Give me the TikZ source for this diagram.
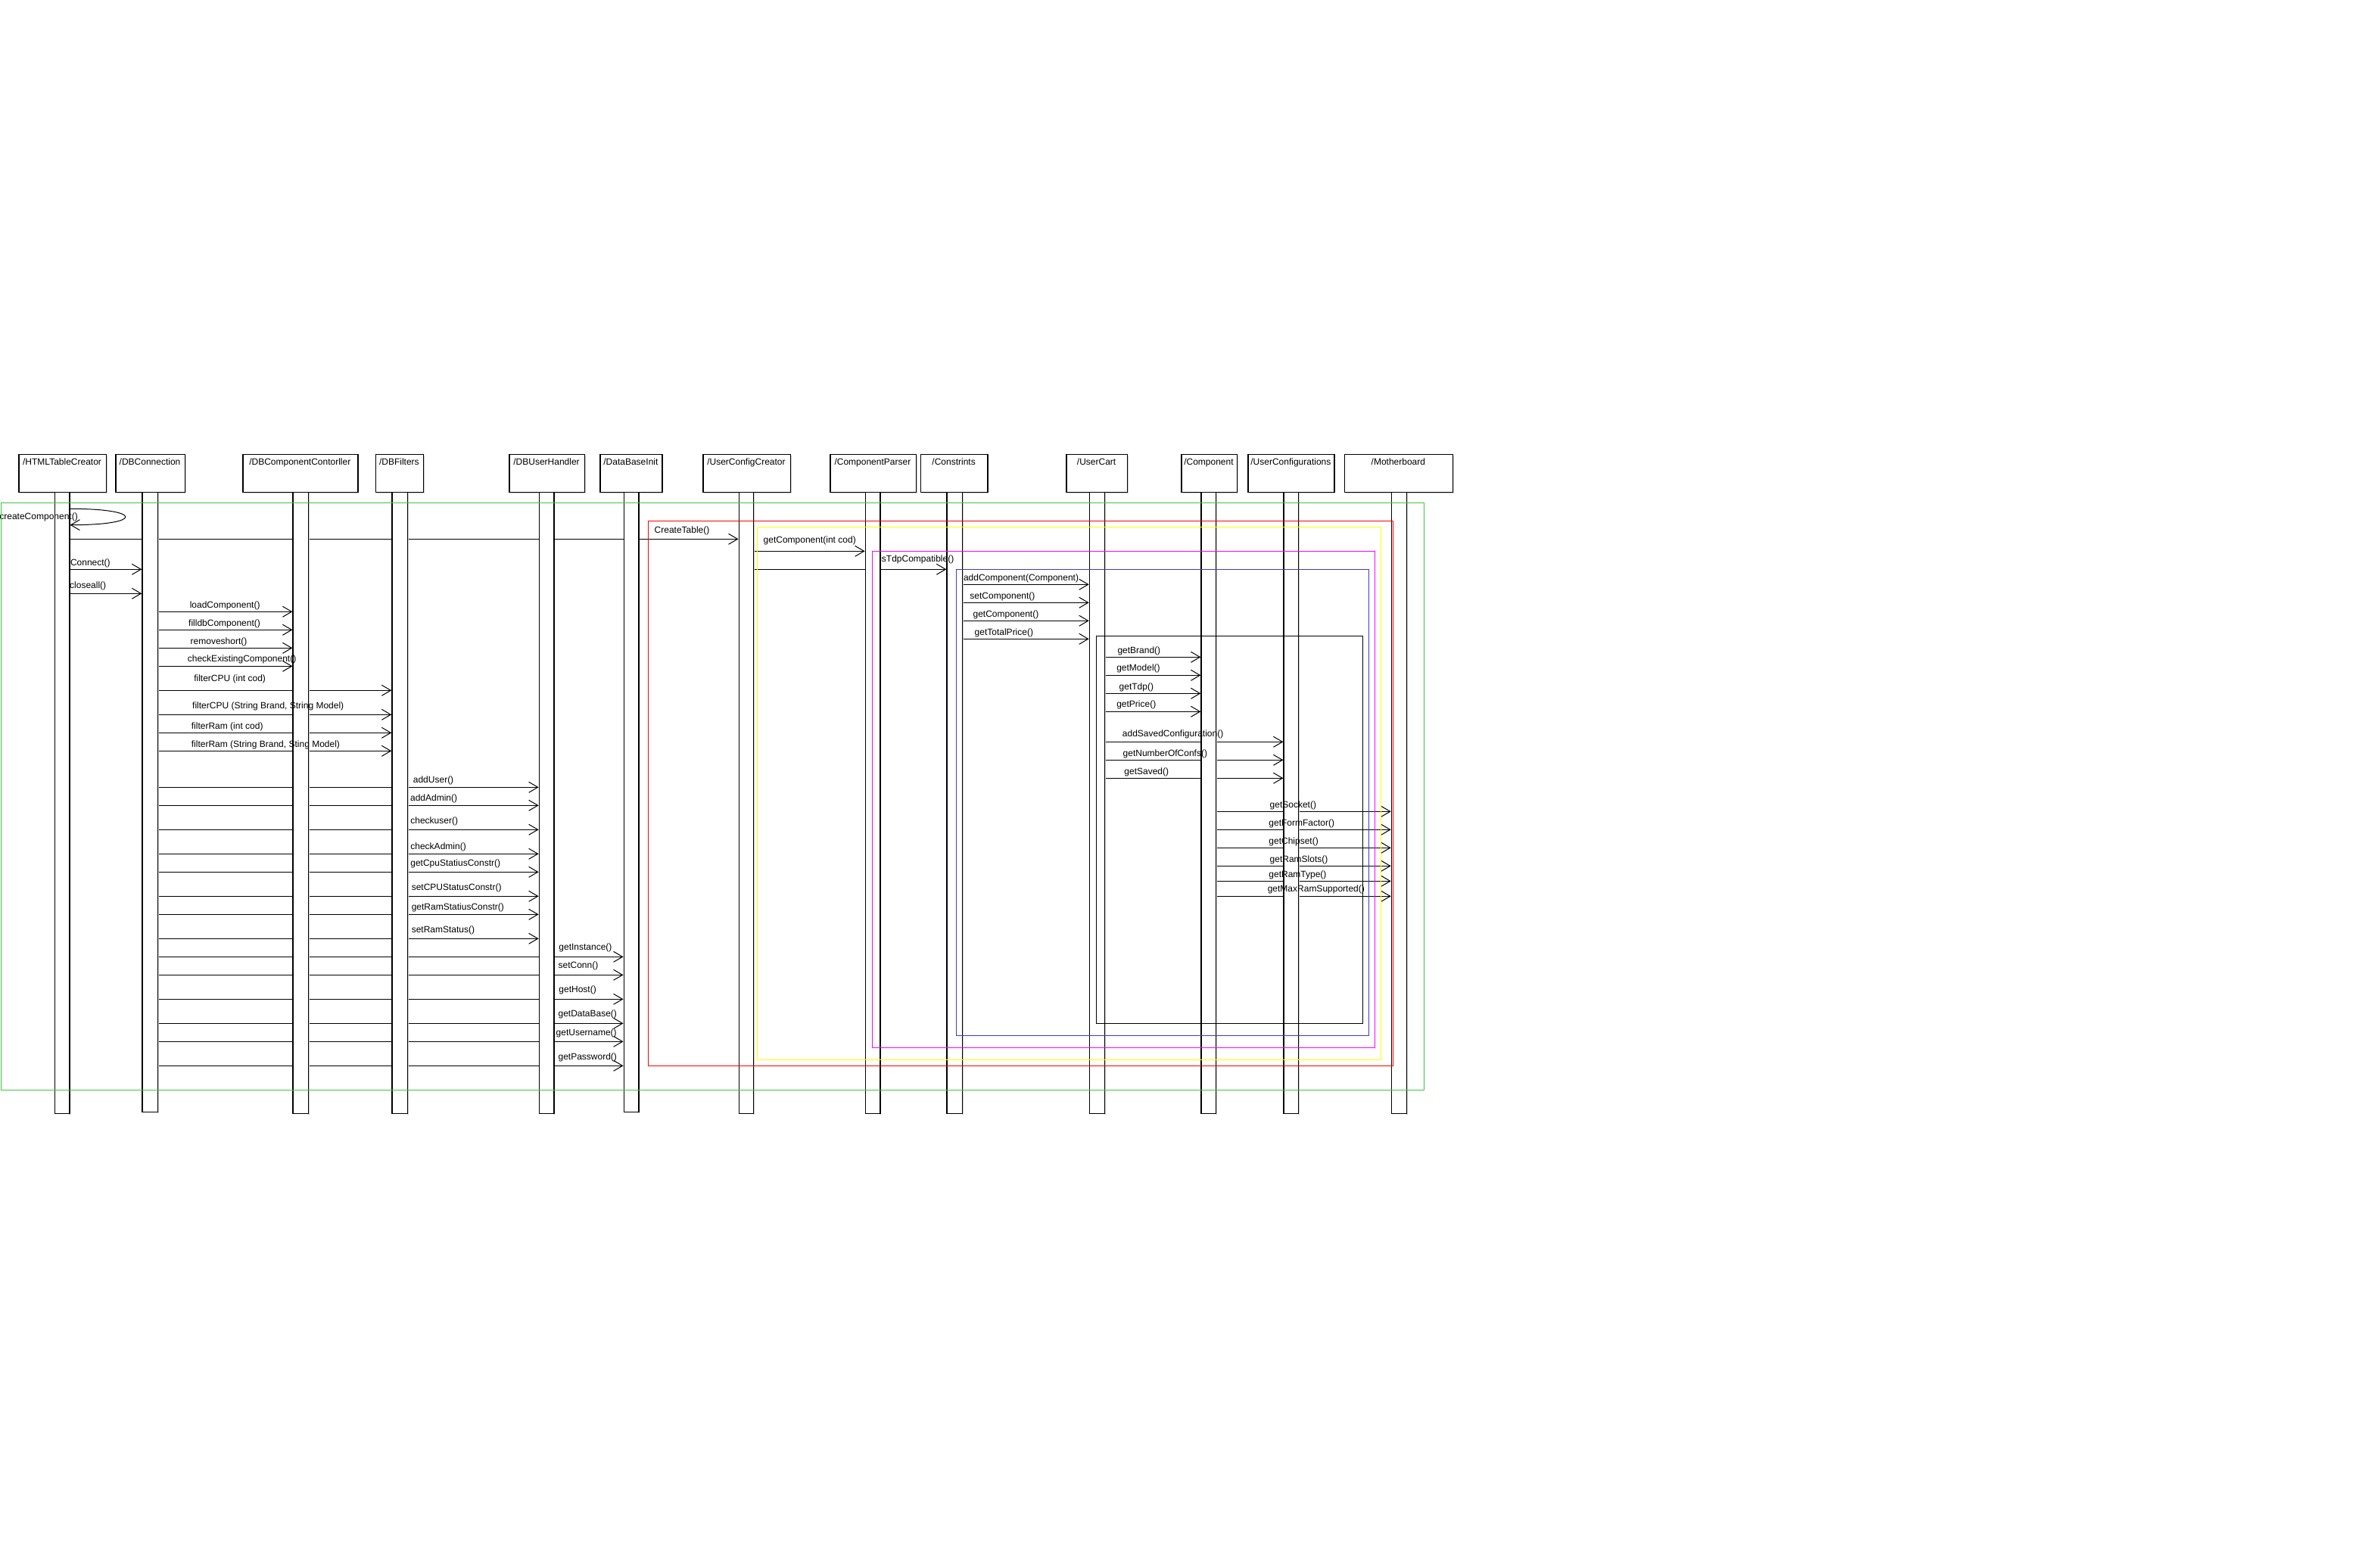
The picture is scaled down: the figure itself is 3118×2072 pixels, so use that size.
\documentclass[tikz,border=0pt]{standalone}
\usepackage{fontspec}
\setmainfont{Liberation Sans}
\usetikzlibrary{arrows.meta}
\pgfdeclarelayer{back}
\pgfdeclarelayer{bg}
\pgfdeclarelayer{fg}
\pgfsetlayers{back,bg,main,fg}
\definecolor{fgreen}{RGB}{60,200,60}
\definecolor{fblue}{RGB}{60,60,204}
\definecolor{fmag}{RGB}{255,0,255}
\definecolor{fyel}{RGB}{255,255,0}
\definecolor{fred}{RGB}{255,0,0}
\definecolor{shadowc}{RGB}{205,205,205}
\newcounter{msgc}
\tikzset{
  lbox/.style={draw=black, line width=0.6pt, fill=white, inner sep=0pt},
  bar/.style={draw=black, line width=0.6pt, fill=white, inner sep=0pt},
  lbl/.style={inner sep=0pt, font=\fontsize{6}{7}\selectfont},
  msg/.style={draw=black, line width=0.5pt, -{Straight Barb[length=6pt,width=7pt]}},
  frame/.style={line width=0.5pt},
}
\newcommand\lifeln[7]{%
  \fill[shadowc] ({#2+2},602) rectangle ({#3+2},652);
  \node[lbox, anchor=north west, minimum width={(#3-#2)*0.5pt}, minimum height=25pt] (#1) at (#2,600) {};
  \node[lbl, anchor=base] (#1t) at ({(#2+#3)/2},614) {#7};
  \fill[shadowc] (#5,652) rectangle ({#5+2},{#6+2});
  \node[bar, anchor=north west, minimum width={(#5-#4)*0.5pt}, minimum height={(#6-650)*0.5pt}] (#1b) at (#4,650) {};
}
\newcommand\msgr[6]{%
  \begin{pgfonlayer}{bg}\draw[msg] (#1.east |- 0,#3) -- (#2.west |- 0,#3);\end{pgfonlayer}
  \stepcounter{msgc}%
  \begin{pgfonlayer}{fg}\node[lbl, anchor=base west] (m\arabic{msgc}) at (#4,{#5+4.3}) {#6};\end{pgfonlayer}
}
\begin{document}
\begin{tikzpicture}[x=0.5pt, y=-0.5pt]
\begin{pgfonlayer}{back}
\fill[white] (0,0) rectangle (3118,2072);
\end{pgfonlayer}
\useasboundingbox (0,0) rectangle (3118,2072);
% lifelines
\lifeln{htc}{24.4}{139.7}{71.6}{91.3}{1471}{/HTMLTableCreator}
\lifeln{dbc}{152.4}{243.7}{187.3}{207.5}{1469}{/DBConnection}
\lifeln{dbcc}{320.3}{472.3}{386.4}{406.6}{1471}{/DBComponentContorller}
\lifeln{dbf}{496.2}{558.5}{517.3}{537.5}{1471}{/DBFilters}
\lifeln{dbu}{672.4}{771.7}{711.6}{731.3}{1471}{/DBUserHandler}
\lifeln{dbi}{792.4}{874.4}{823.5}{843.3}{1469}{/DataBaseInit}
\lifeln{ucc}{928.3}{1043.6}{975.5}{995.2}{1471}{/UserConfigCreator}
\lifeln{cp}{1096.3}{1209.5}{1142.6}{1162.4}{1471}{/ComponentParser}
\lifeln{con}{1215.8}{1304.4}{1250.3}{1270.5}{1471}{/Constrints}
\lifeln{uc}{1408.4}{1488.8}{1438.7}{1458.5}{1471}{/UserCart}
\lifeln{comp}{1560.3}{1633.6}{1586.4}{1606.2}{1471}{/Component}
\lifeln{ucf}{1648.3}{1762.4}{1695.4}{1715.2}{1471}{/UserConfigurations}
\lifeln{mb}{1776.2}{1918.5}{1837.7}{1857.5}{1471}{/Motherboard}
% self call
\draw[msg] (htcb.east |- 0,672.3) .. controls (190,672.3) and (190,693.7) .. (htcb.east |- 0,693.7);
\begin{pgfonlayer}{fg}\node[lbl, anchor=base west] (selfl) at (-1,686) {createComponent()};\end{pgfonlayer}
% messages
\msgr{htcb}{uccb}{712.3}{864.3}{699.7}{CreateTable()}
\msgr{htcb}{dbcb}{752.3}{92.6}{742.7}{Connect()}
\msgr{htcb}{dbcb}{784.3}{91.8}{773.3}{closeall()}
\msgr{dbcb}{dbccb}{808.3}{250.4}{799}{loadComponent()}
\msgr{dbcb}{dbccb}{832.3}{248.8}{822.7}{filldbComponent()}
\msgr{dbcb}{dbccb}{856.3}{251.3}{846.7}{removeshort()}
\msgr{dbcb}{dbccb}{880.3}{247.5}{869.7}{checkExistingComponent()}
\msgr{dbcb}{dbfb}{912.3}{255.9}{895.7}{filterCPU (int cod)}
\msgr{dbcb}{dbfb}{944.3}{253.8}{931.7}{filterCPU (String Brand, String Model)}
\msgr{dbcb}{dbfb}{968.3}{252.5}{958.7}{filterRam (int cod)}
\msgr{dbcb}{dbfb}{992.3}{252.5}{982.7}{filterRam (String Brand, Sting Model)}
\msgr{dbcb}{dbub}{1040.3}{545.5}{1029.7}{addUser()}
\msgr{dbcb}{dbub}{1064.3}{541.7}{1053.7}{addAdmin()}
\msgr{dbcb}{dbub}{1096.3}{542}{1083.7}{checkuser()}
\msgr{dbcb}{dbub}{1128.3}{542}{1117.7}{checkAdmin()}
\msgr{dbcb}{dbub}{1152.3}{542}{1140}{getCpuStatiusConstr()}
\msgr{dbcb}{dbub}{1184.3}{543.4}{1171.7}{setCPUStatusConstr()}
\msgr{dbcb}{dbub}{1208.3}{543.4}{1197.7}{getRamStatiusConstr()}
\msgr{dbcb}{dbub}{1240.3}{543.4}{1227.7}{setRamStatus()}
\msgr{dbcb}{dbib}{1264.3}{738}{1250.7}{getInstance()}
\msgr{dbcb}{dbib}{1288.3}{737.2}{1274.7}{setConn()}
\msgr{dbcb}{dbib}{1320.3}{738}{1306.7}{getHost()}
\msgr{dbcb}{dbib}{1352.3}{737.2}{1338.7}{getDataBase()}
\msgr{dbcb}{dbib}{1376.3}{734.3}{1363.7}{getUsername()}
\msgr{dbcb}{dbib}{1408.3}{737.2}{1395.7}{getPassword()}
\msgr{uccb}{cpb}{728.3}{1008.3}{712.7}{getComponent(int cod)}
\msgr{uccb}{conb}{752.3}{1161.9}{737.7}{isTdpCompatible()}
\msgr{conb}{ucb}{772.3}{1272.6}{762.7}{addComponent(Component)}
\msgr{conb}{ucb}{796.3}{1281}{786.7}{setComponent()}
\msgr{conb}{ucb}{820.3}{1285.2}{810.7}{getComponent()}
\msgr{conb}{ucb}{844.3}{1287.3}{834.7}{getTotalPrice()}
\msgr{ucb}{compb}{868.3}{1476.1}{858.7}{getBrand()}
\msgr{ucb}{compb}{892.3}{1474.9}{882}{getModel()}
\msgr{ucb}{compb}{916.3}{1478.3}{906.7}{getTdp()}
\msgr{ucb}{compb}{940.3}{1474.9}{929.7}{getPrice()}
\msgr{ucb}{ucfb}{980.3}{1482.5}{968.7}{addSavedConfiguration()}
\msgr{ucb}{ucfb}{1004.3}{1483.3}{994.7}{getNumberOfConfs()}
\msgr{ucb}{ucfb}{1028.3}{1485}{1019}{getSaved()}
\msgr{compb}{mbb}{1072.3}{1677.3}{1062.7}{getSocket()}
\msgr{compb}{mbb}{1096.3}{1676}{1086.7}{getFormFactor()}
\msgr{compb}{mbb}{1120.3}{1676}{1110.7}{getChipset()}
\msgr{compb}{mbb}{1144.3}{1677.3}{1134.7}{getRamSlots()}
\msgr{compb}{mbb}{1164.3}{1676}{1154.7}{getRamType()}
\msgr{compb}{mbb}{1184.3}{1674.4}{1173.7}{getMaxRamSupported()}
% combined fragments
\begin{pgfonlayer}{fg}
\draw[frame, fgreen] (1.3,664.7) rectangle (1881.5,1440.3);
\draw[frame, fred] (856.3,688.3) rectangle (1840.6,1408.3);
\draw[frame, fyel] (1000.7,696.3) rectangle (1824.6,1400.3);
\draw[frame, fmag] (1152.2,728.3) rectangle (1816.6,1384.3);
\draw[frame, fblue] (1263.8,752.3) rectangle (1808.6,1368.3);
\draw[frame, black] (1448.4,840.3) rectangle (1800.7,1352.3);
\end{pgfonlayer}
\end{tikzpicture}
\end{document}
